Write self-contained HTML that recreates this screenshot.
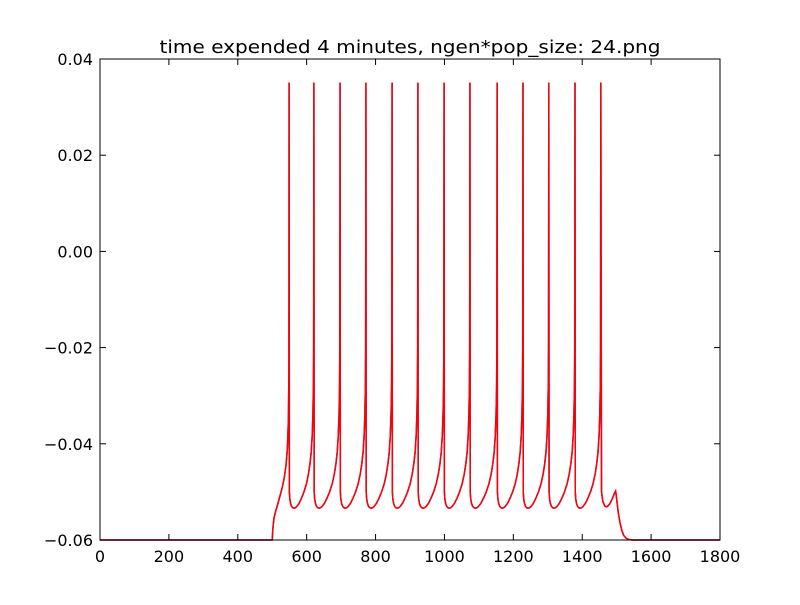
<!DOCTYPE html>
<html><head><meta charset="utf-8"><style>
body{margin:0;background:#fff;}
svg text{font-family:"DejaVu Sans","Liberation Sans",sans-serif;fill:#000;}
</style></head><body>
<svg id="chart" width="800" height="600">
<rect x="0" y="0" width="800" height="600" fill="#fff"/>
<text x="410" y="53" font-size="18" text-anchor="middle" textLength="501" lengthAdjust="spacingAndGlyphs">time expended 4 minutes, ngen*pop_size: 24.png</text>
<g id="plot"></g>
<rect x="100" y="59" width="620" height="481" fill="none" stroke="#000" stroke-width="1"/>
<g id="axes"></g>
</svg>
<script>
const xTicks=[0,200,400,600,800,1000,1200,1400,1600,1800];
const yTicks=[0.04,0.02,0.00,-0.02,-0.04,-0.06];
const yTickLabels=["0.04","0.02","0.00","\u22120.02","\u22120.04","\u22120.06"];
const spikeTimes=[549,621,697,772,848,923,999,1074,1153,1228,1303,1379,1454];
const isiPhase=[0,0.01,0.03,0.06,0.1,0.15,0.2,0.25,0.3,0.4,0.5,0.6,0.7,0.78,0.84,0.89,0.93,0.96,0.98,0.99,1.0];
const isiValue=[0.035,-0.050,-0.0515,-0.0524,-0.0530,-0.0533,-0.0534,-0.0533,-0.0531,-0.0524,-0.0513,-0.0500,-0.0483,-0.0463,-0.0442,-0.0418,-0.0385,-0.034,-0.028,-0.020,0.035];
const onsetT=[0,500,502,505,510,515,520,525,530,535,540,544,547,548.5,549];
const onsetV=[-0.06,-0.06,-0.0575,-0.0555,-0.0540,-0.0528,-0.0515,-0.0502,-0.0488,-0.0470,-0.0445,-0.041,-0.035,-0.025,0.035];
const tailT=[1454,1456,1460,1466,1472,1480,1488,1494,1497,1500,1505,1510,1515,1520,1527,1535,1545,1560,1800];
const tailV=[0.035,-0.050,-0.0520,-0.0530,-0.0531,-0.0525,-0.0513,-0.0502,-0.0498,-0.0515,-0.0545,-0.0565,-0.0580,-0.0590,-0.0596,-0.0599,-0.0600,-0.0600,-0.0600];

const X0=100,X1=720,Y0=540,Y1=59;
const xs=t=>X0+(t-0)/(1800-0)*(X1-X0);
const ys=v=>Y0-(v-(-0.06))/(0.04-(-0.06))*(Y0-Y1);
const NS="http://www.w3.org/2000/svg";
const axes=document.getElementById('axes'),plot=document.getElementById('plot');
function mk(tag,attrs,parent){const e=document.createElementNS(NS,tag);for(const k in attrs)e.setAttribute(k,attrs[k]);parent.appendChild(e);return e;}

xTicks.forEach(t=>{const x=xs(t);
 const g=mk('g',{},axes);
 
 
 mk('line',{x1:x,x2:x,y1:Y0,y2:Y0-6,stroke:'#000'},g);
 mk('line',{x1:x,x2:x,y1:Y1,y2:Y1+6,stroke:'#000'},g);
 const tx=mk('text',{x:x,y:Y0+22,'font-size':16,'text-anchor':'middle'},g);tx.textContent=t;});
yTicks.forEach((v,i)=>{const y=ys(v);
 const g=mk('g',{},axes);
 
 
 mk('line',{x1:X0,x2:X0+6,y1:y,y2:y,stroke:'#000'},g);
 mk('line',{x1:X1,x2:X1-6,y1:y,y2:y,stroke:'#000'},g);
 const tx=mk('text',{x:X0-7,y:y+6,'font-size':16,'text-anchor':'end'},g);tx.textContent=yTickLabels[i];});

const pts=[];
onsetT.forEach((t,i)=>pts.push([t,onsetV[i]]));
for(let s=0;s<spikeTimes.length-1;s++){const a=spikeTimes[s],b=spikeTimes[s+1];
 for(let k=1;k<isiPhase.length;k++)pts.push([a+(b-a)*isiPhase[k],isiValue[k]]);}
tailT.forEach((t,i)=>{if(i>0)pts.push([t,tailV[i]]);});
const d=pts.map((p,i)=>(i?'L':'M')+xs(p[0]).toFixed(2)+','+ys(p[1]).toFixed(2)).join('');
const blue=mk('path',{d:d,fill:'none',stroke:'#3030c0','stroke-width':1.5},plot);


const red=mk('path',{d:d,fill:'none',stroke:'#ff0000','stroke-width':1.5,'stroke-linejoin':'round'},plot);


</script>
</body></html>
